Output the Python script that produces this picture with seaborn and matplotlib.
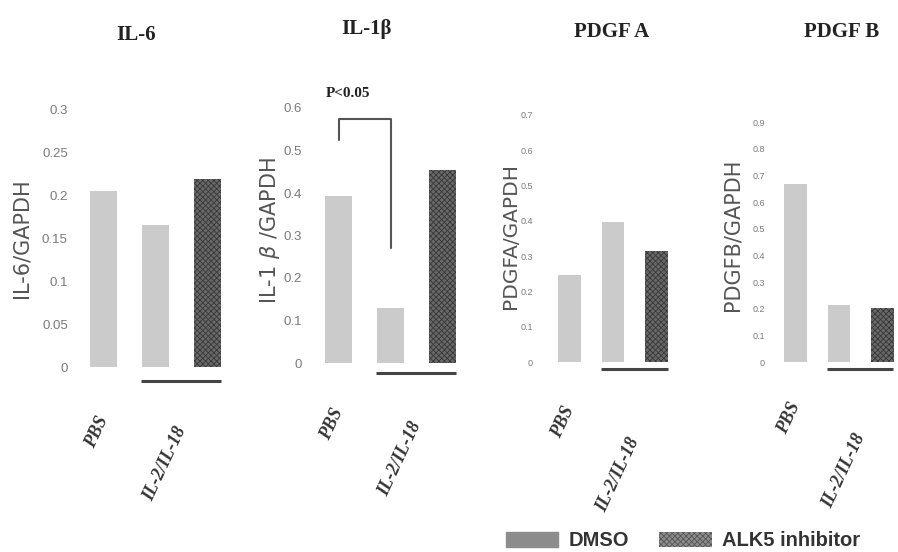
import numpy as np
import pandas as pd
import matplotlib
matplotlib.use("Agg")
import matplotlib.pyplot as plt
import seaborn as sns
from matplotlib.patches import Patch
from matplotlib.transforms import ScaledTranslation

# ---------------- data ----------------
bar_labels = ["PBS", "IL-2/IL-18 DMSO", "IL-2/IL-18 ALK5 inhibitor"]
treatments = ["DMSO", "DMSO", "ALK5 inhibitor"]
group_ticks = ["PBS", "IL-2/IL-18"]
legend_labels = ["DMSO", "ALK5 inhibitor"]
titles = ["IL-6", "IL-1β", "PDGF A", "PDGF B"]
ylabels = ["IL-6/GAPDH", "IL-1 $\\beta$ /GAPDH", "PDGFA/GAPDH", "PDGFB/GAPDH"]
il6 = [0.206, 0.166, 0.220]
il1b = [0.394, 0.129, 0.455]
pdgfa = [0.246, 0.397, 0.315]
pdgfb = [0.666, 0.215, 0.204]
ymax = [0.3, 0.6, 0.7, 0.9]
ystep = [0.05, 0.1, 0.1, 0.1]
pval_text = "P<0.05"

series = [il6, il1b, pdgfa, pdgfb]

# ---------------- style ----------------
sns.set_style("white")
plt.rcParams["hatch.linewidth"] = 0.6
W, H = 898, 552
fig = plt.figure(figsize=(W / 100, H / 100), dpi=100)

pal = {"DMSO": "#cbcbcb", "ALK5 inhibitor": "#686868"}
tick_family = ["Liberation Sans", "DejaVu Sans"]

specs = [
    dict(left=72, x0=-0.606, x1=2.45, sp=52, zero=367, top=110, tfs=9.5, ylx=22, yly=238, ylfs=15, pad=50, ildy=11, ul=14, title=(136, 35)),
    dict(left=306, x0=-0.625, x1=2.45, sp=52, zero=363, top=108, tfs=9.5, ylx=270, yly=231, ylfs=15, pad=46, ildy=14, ul=10, title=(367, 29)),
    dict(left=537, x0=-0.75, x1=2.45, sp=43.5, zero=362, top=115, tfs=6.5, ylx=510, yly=236, ylfs=14.5, pad=45, ildy=32, ul=7, title=(612, 32)),
    dict(left=769, x0=-0.61, x1=2.35, sp=43.5, zero=362, top=122, tfs=6.5, ylx=733, yly=235, ylfs=15, pad=41, ildy=32, ul=7, title=(842, 32)),
]

for i, (vals, sp_) in enumerate(zip(series, specs)):
    wpx = (sp_["x1"] - sp_["x0"]) * sp_["sp"]
    ax = fig.add_axes([sp_["left"] / W, (H - sp_["zero"]) / H, wpx / W, (sp_["zero"] - sp_["top"]) / H])
    df = pd.DataFrame({"bar": bar_labels, "value": vals, "treatment": treatments})
    sns.barplot(data=df, x="bar", y="value", hue="treatment", order=bar_labels,
                hue_order=legend_labels, palette=pal, dodge=False, width=0.52,
                saturation=1, legend=False, ax=ax)
    for bar in ax.containers[1]:
        bar.set_hatch("xxxxxx")
        bar.set_edgecolor("#383838")
        bar.set_linewidth(0)
    for bar in ax.containers[0]:
        bar.set_linewidth(0)
    ax.set_xlim(sp_["x0"], sp_["x1"])
    ax.set_ylim(0, ymax[i])
    yt = np.round(np.arange(0, ymax[i] + 1e-9, ystep[i]), 2)
    ax.set_yticks(yt)
    ax.set_yticklabels([f"{v:g}" for v in yt], fontsize=sp_["tfs"], color="#7a7a7a",
                       family=tick_family)
    ax.tick_params(axis="y", length=0, pad=3)
    ax.set_xlabel("")
    ax.set_ylabel("")
    sns.despine(ax=ax, left=True, bottom=True)

    ax.set_xticks([0, 1.5])
    ax.set_xticklabels(group_ticks, rotation=65, ha="right", va="center",
                       rotation_mode="anchor", family="Liberation Serif",
                       fontweight="bold", fontstyle="italic", fontsize=13, color="#333333")
    ax.tick_params(axis="x", length=0, pad=sp_["pad"] * 0.72)
    lab = ax.get_xticklabels()[1]
    lab.set_transform(lab.get_transform() + ScaledTranslation(0, -sp_["ildy"] / 100, fig.dpi_scale_trans))

    # underline of the IL-2/IL-18 group
    trans = ax.get_xaxis_transform() + ScaledTranslation(0, -sp_["ul"] / 100, fig.dpi_scale_trans)
    ax.plot([0.72, 2.25], [0, 0], transform=trans, color="#444444", lw=2.2,
            clip_on=False, solid_capstyle="butt")

    fig.text(sp_["ylx"] / W, 1 - sp_["yly"] / H, ylabels[i], rotation=90, ha="center",
             va="center", fontsize=sp_["ylfs"], color="#555555", family="DejaVu Sans")
    fig.text(sp_["title"][0] / W, 1 - sp_["title"][1] / H, titles[i], ha="center", va="center",
             fontsize=15, fontweight="bold", family="Liberation Serif", color="#222222")

    if i == 1:
        ax.plot([0, 0, 1, 1], [0.525, 0.573, 0.573, 0.27], color="#555555", lw=1.5,
                clip_on=False)
        ax.text(0.18, 0.633, pval_text, ha="center", va="center", fontsize=11,
                fontweight="bold", family="Liberation Serif", color="#222222", clip_on=False)

handles = [
    Patch(facecolor="#8c8c8c", edgecolor="#8c8c8c", label=legend_labels[0]),
    Patch(facecolor="#8c8c8c", edgecolor="#555555", hatch="xxxxxx", lw=0, label=legend_labels[1]),
]
leg = fig.legend(handles=handles, loc="center left", bbox_to_anchor=(506 / W, 1 - 541 / H),
                 ncol=2, frameon=False,
                 prop=dict(family="Liberation Sans", weight="bold", size=14.5),
                 handlelength=2.6, handleheight=0.75, handletextpad=0.5,
                 columnspacing=1.5, borderpad=0, borderaxespad=0)
for t in leg.get_texts():
    t.set_color("#333333")

fig.savefig("out.png", dpi=100, facecolor="white")
